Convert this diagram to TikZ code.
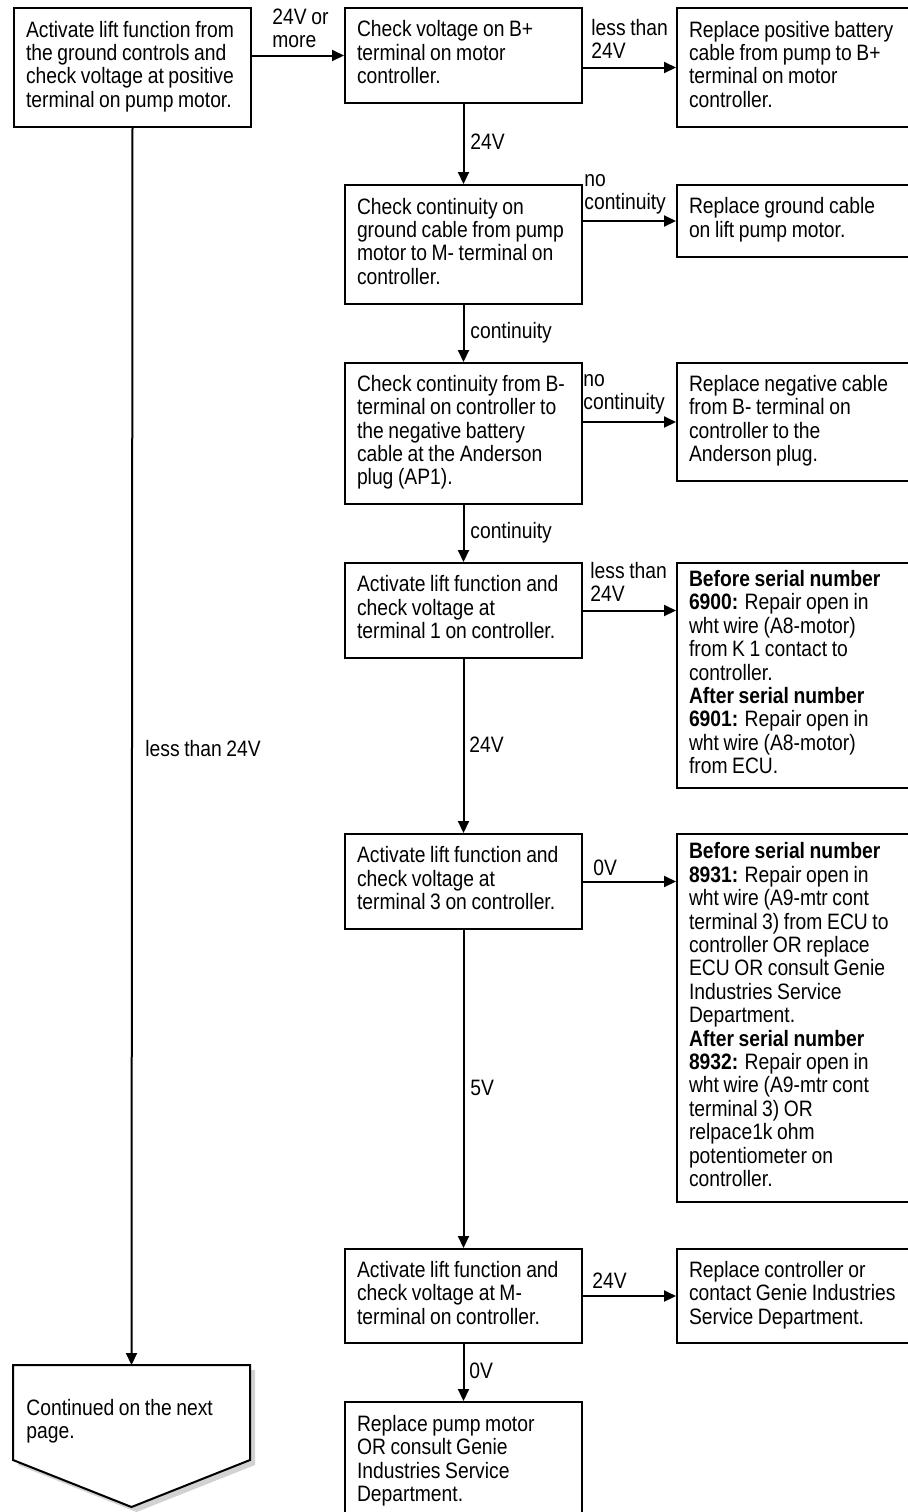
\documentclass[tikz,border=0pt]{standalone}
\usepackage{fontspec}
\setmainfont{Liberation Sans}[FakeStretch=0.865, WordSpace=0.86]
\usetikzlibrary{arrows.meta}

\tikzset{
  stepbox/.style={draw, line width=1pt, anchor=north west, align=flush left,
    text width=106.5pt, inner xsep=6pt, inner ysep=0pt,
    font=\fontsize{11.15pt}{11.7pt}\selectfont,
    execute at begin node=\strut, execute at end node=\strut},
  fixbox/.style={stepbox, text width=107.5pt},
  boxh/.style={minimum height=#1*0.5pt},
  lbl/.style={anchor=north west, align=left, inner sep=0pt,
    font=\fontsize{11.15pt}{11.7pt}\selectfont, execute at begin node=\strut},
  flow/.style={line width=1pt, -{Triangle[length=6pt,width=5.5pt]}}
}

\begin{document}
\begin{tikzpicture}[x=0.5pt, y=-0.5pt]
\useasboundingbox (0,0) rectangle (908,1512);

% checks
\node[stepbox, boxh=119] (lift) at (13,7) {Activate lift function from\\the ground controls and\\check voltage at positive\\terminal on pump motor.};
\node[stepbox, boxh=95] (bplus) at (344,7) {Check voltage on B+\\terminal on motor\\controller.};
\node[stepbox, boxh=119] (gndchk) at (344,184) {Check continuity on\\ground cable from pump\\motor to M- terminal on\\controller.};
\node[stepbox, boxh=141] (negchk) at (344,362) {Check continuity from B-\\terminal on controller to\\the negative battery\\cable at the Anderson\\plug (AP1).};
\node[stepbox, boxh=95] (term1) at (344,562) {Activate lift function and\\check voltage at\\terminal 1 on controller.};
\node[stepbox, boxh=95] (term3) at (344,833) {Activate lift function and\\check voltage at\\terminal 3 on controller.};
\node[stepbox, boxh=94] (mterm) at (344,1248) {Activate lift function and\\check voltage at M-\\terminal on controller.};
\node[stepbox, boxh=120] (pumprep) at (344,1401) {Replace pump motor\\OR consult Genie\\Industries Service\\Department.};

% fixes
\node[fixbox, boxh=119] (posrep) at (676,7) {Replace positive battery\\cable from pump to B+\\terminal on motor\\controller.};
\node[fixbox, boxh=72] (gndrep) at (676,184) {Replace ground cable\\on lift pump motor.};
\node[fixbox, boxh=118] (negrep) at (676,362) {Replace negative cable\\from B- terminal on\\controller to the\\Anderson plug.};
\node[fixbox, boxh=225] (wire1) at (676,562) {\textbf{Before serial number}\\\textbf{6900:} Repair open in\\wht wire (A8-motor)\\from K 1 contact to\\controller.\\\textbf{After serial number}\\\textbf{6901:} Repair open in\\wht wire (A8-motor)\\from ECU.};
\node[fixbox, boxh=368] (wire3) at (676,833) {\textbf{Before serial number}\\\textbf{8931:} Repair open in\\wht wire (A9-mtr cont\\terminal 3) from ECU to\\controller OR replace\\ECU OR consult Genie\\Industries Service\\Department.\\\textbf{After serial number}\\\textbf{8932:} Repair open in\\wht wire (A9-mtr cont\\terminal 3) OR\\relpace1k ohm\\potentiometer on\\controller.};
\node[fixbox, boxh=94] (ctrlrep) at (676,1248) {Replace controller or\\contact Genie Industries\\Service Department.};

% continued on the next page
\fill[gray!35] (18,1370) -- (255,1370) -- (255,1465) -- (136.5,1512) -- (18,1465) -- cycle;
\draw[line width=1pt, fill=white] (13,1365) -- (250,1365) -- (250,1460) -- (131.5,1507) -- (13,1460) -- cycle;
\coordinate (cont) at (131.5,1365);
\node[lbl] (conttxt) at (26,1398.6) {Continued on the next\\page.};

% connectors
\draw[flow] (lift.east |- bplus.west) -- (bplus.west);
\draw[flow] (bplus.east |- posrep.west) -- (posrep.west);
\draw[flow] (bplus.south) -- (gndchk.north);
\draw[flow] (gndchk.east |- gndrep.west) -- (gndrep.west);
\draw[flow] (gndchk.south) -- (negchk.north);
\draw[flow] (negchk.east |- negrep.west) -- (negrep.west);
\draw[flow] (negchk.south) -- (term1.north);
\draw[flow] (term1.east) -- (term1.east -| wire1.west);
\draw[flow] (term1.south) -- (term3.north);
\draw[flow] (term3.east) -- (term3.east -| wire3.west);
\draw[flow] (term3.south) -- (mterm.north);
\draw[flow] (mterm.east) -- (ctrlrep.west);
\draw[flow] (mterm.south) -- (pumprep.north);
\draw[flow] (lift.south) -- (cont);

% labels
\node[lbl] (l1) at (272,8.6) {24V or\\more};
\node[lbl] (l2) at (591,18.6) {less than\\24V};
\node[lbl] (l3) at (470,132.6) {24V};
\node[lbl] (l4) at (584,173.6) {no\\continuity};
\node[lbl] (l5) at (470,322) {continuity};
\node[lbl] (l6) at (583,373.6) {no\\continuity};
\node[lbl] (l7) at (470,521.6) {continuity};
\node[lbl] (l8) at (590,561.6) {less than\\24V};
\node[lbl] (l9) at (469,735.6) {24V};
\node[lbl] (l10) at (593,858.6) {0V};
\node[lbl] (l11) at (470,1078.6) {5V};
\node[lbl] (l12) at (592,1271.6) {24V};
\node[lbl] (l13) at (469,1361.6) {0V};
\node[lbl] (l14) at (145,739.6) {less than 24V};
\end{tikzpicture}
\end{document}
